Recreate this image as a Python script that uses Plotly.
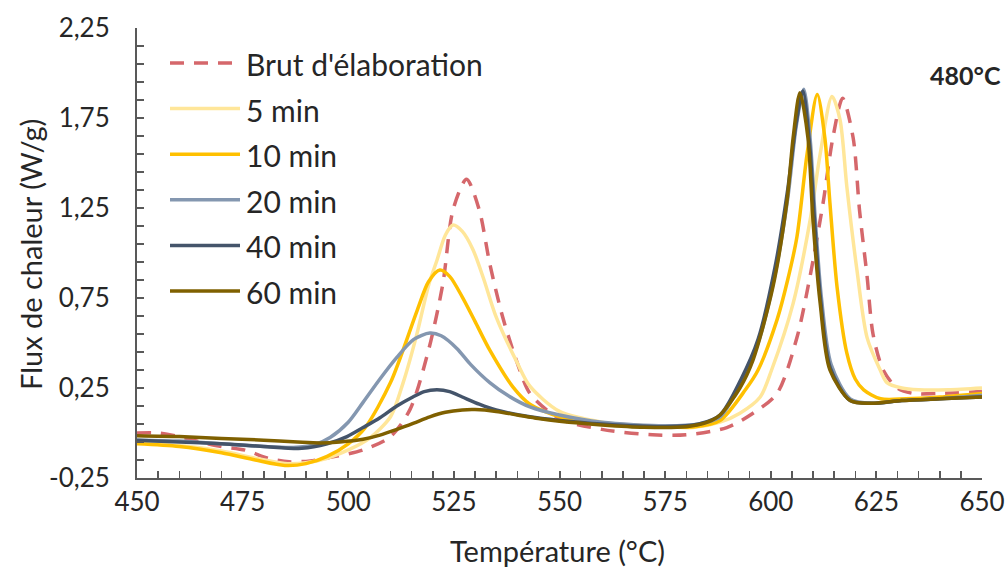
import plotly.graph_objects as go

# ---------------- data ----------------
series_names = ["Brut d'élaboration", "5 min", "10 min", "20 min", "40 min", "60 min"]
series_colors = ["#D5676B", "#FFE699", "#FFC000", "#8497B0", "#44546A", "#7F6000"]
series_dash = ["dash", "solid", "solid", "solid", "solid", "solid"]

t_brut = [450, 455, 460, 465, 470, 475.6, 481, 486, 491, 497, 503.5, 510, 514.6, 519, 522.4, 524.8, 528, 531,
          533.5, 536.6, 540, 543, 550, 560, 572, 580, 589.6, 595.8, 601.5, 606.2, 609.3, 612.4, 614.7, 617,
          619.5, 621, 622.8, 624.2, 626.6, 629.9, 633.7, 640, 650]
v_brut = [0.0, 0.0, -0.02, -0.05, -0.075, -0.095, -0.14, -0.16, -0.155, -0.13, -0.094, -0.02, 0.13, 0.46, 0.83,
          1.24, 1.41, 1.24, 0.94, 0.64, 0.39, 0.22, 0.08, 0.02, -0.01, -0.01, 0.03, 0.11, 0.22, 0.53, 0.87, 1.28,
          1.64, 1.86, 1.64, 1.24, 0.87, 0.55, 0.35, 0.25, 0.22, 0.22, 0.23]

t_5 = [450, 460, 470, 478, 485, 490, 495, 500.4, 505, 510, 513, 516.3, 519, 521, 523, 524.8, 527, 529.5, 532,
       535, 540, 543, 550, 560, 566, 575, 581.6, 588, 592.7, 597.5, 600.2, 605.3, 609.3, 611.7, 614.5, 616.4,
       618, 620.4, 622.8, 625.9, 627.5, 631, 635, 642, 650]
v_5 = [-0.055, -0.07, -0.1, -0.14, -0.17, -0.165, -0.14, -0.09, -0.03, 0.09, 0.28, 0.555, 0.82, 0.96, 1.1,
       1.155, 1.12, 1.02, 0.86, 0.645, 0.39, 0.26, 0.12, 0.06, 0.045, 0.035, 0.03, 0.06, 0.11, 0.2, 0.35, 0.72,
       1.18, 1.55, 1.87, 1.74, 1.37, 0.905, 0.53, 0.35, 0.28, 0.25, 0.24, 0.24, 0.25]

t_10 = [450, 460, 470, 478, 485, 490, 495, 500, 504, 510, 516.3, 519, 521.7, 524, 527, 530, 533.5, 539, 543,
        550, 560, 575, 582, 588, 594, 597, 601.5, 604, 606.2, 608.6, 611, 612.8, 614, 615.7, 618, 620, 622,
        626, 632, 640, 650]
v_10 = [-0.06, -0.075, -0.11, -0.15, -0.18, -0.17, -0.13, -0.06, 0.03, 0.28, 0.68, 0.84, 0.905, 0.87, 0.755,
        0.62, 0.46, 0.255, 0.16, 0.09, 0.055, 0.035, 0.035, 0.07, 0.24, 0.35, 0.63, 0.85, 1.09, 1.55, 1.88,
        1.64, 1.28, 0.81, 0.445, 0.3, 0.24, 0.19, 0.19, 0.2, 0.22]

t_20 = [450, 460, 470, 480, 487, 492, 495.7, 500, 503.5, 507.5, 511.5, 515.5, 519.3, 522, 525.7, 529, 533.5,
        538, 543, 550, 560, 575, 583, 588, 593, 597, 601, 604, 606, 607.8, 609.3, 610.5, 612, 614.3, 618.8,
        624, 631, 640, 650]
v_20 = [-0.04, -0.045, -0.06, -0.075, -0.08, -0.065, -0.025, 0.06, 0.17, 0.3, 0.42, 0.52, 0.555, 0.54, 0.47,
        0.38, 0.28, 0.205, 0.145, 0.1, 0.06, 0.04, 0.05, 0.09, 0.28, 0.5, 0.88, 1.3, 1.7, 1.91, 1.64, 1.2, 0.75,
        0.38, 0.19, 0.165, 0.18, 0.19, 0.21]

t_40 = [450, 460, 470, 480, 489, 495, 499.7, 503.5, 507.5, 511.5, 515.3, 518, 521, 524, 527, 531, 535, 543,
        550, 560, 575, 583, 588, 593, 597, 601, 604, 606, 607.6, 609.2, 610.3, 611.8, 614.1, 618.8, 624, 631,
        640, 650]
v_40 = [-0.04, -0.05, -0.06, -0.075, -0.085, -0.06, -0.02, 0.03, 0.085, 0.15, 0.2, 0.23, 0.24, 0.23, 0.2, 0.16,
        0.128, 0.09, 0.07, 0.05, 0.035, 0.05, 0.1, 0.3, 0.52, 0.92, 1.35, 1.72, 1.9, 1.6, 1.2, 0.74, 0.36, 0.18,
        0.165, 0.18, 0.19, 0.2]

t_60 = [450, 460, 470, 480, 488, 493.3, 498, 503.5, 507.5, 511.5, 515.5, 519.3, 523, 527, 530, 535, 540, 545,
        550, 560, 570, 580, 585, 588, 592.7, 595.8, 600.5, 603.8, 605.3, 606.9, 608.8, 610, 611.7, 614, 618.8,
        623.5, 631, 640, 650]
v_60 = [-0.015, -0.02, -0.03, -0.04, -0.05, -0.055, -0.05, -0.035, -0.012, 0.02, 0.055, 0.09, 0.115, 0.128,
        0.13, 0.12, 0.1, 0.08, 0.065, 0.045, 0.032, 0.035, 0.06, 0.1, 0.25, 0.405, 0.81, 1.28, 1.64, 1.89, 1.64,
        1.18, 0.72, 0.35, 0.18, 0.165, 0.18, 0.19, 0.2]

series_t = [t_brut, t_5, t_10, t_20, t_40, t_60]
series_v = [v_brut, v_5, v_10, v_20, v_40, v_60]

x_ticks = [450, 475, 500, 525, 550, 575, 600, 625, 650]
y_ticks = [-0.25, 0.25, 0.75, 1.25, 1.75, 2.25]

x_title = "Température (°C)"
y_title = "Flux de chaleur (W/g)"
corner_label = "480°C"

FONT = "Lato, 'Open Sans', sans-serif"
TXT = "#262626"
AX = "#595959"

# plot area in window pixels
PL, PR, PT, PB = 137, 982, 28, 478
PW, PH = PR - PL, PB - PT


def px(xw):
    return (xw - PL) / PW


def py(yw):
    return (PB - yw) / PH


fig = go.Figure()
for t, v, name, col, dash in zip(series_t, series_v, series_names, series_colors, series_dash):
    fig.add_trace(go.Scatter(
        x=t, y=v, mode="lines", name=name,
        line=dict(color=col, width=3.5, dash=("14px,10px" if dash == "dash" else "solid"),
                  shape="spline", smoothing=0.8),
        showlegend=False, hoverinfo="skip"))

# custom legend (long line samples like the original)
leg_top = 63
leg_step = 45.6
shapes = []
annotations = []
for i, (name, col, dash) in enumerate(zip(series_names, series_colors, series_dash)):
    yw = leg_top + i * leg_step
    shapes.append(dict(type="line", xref="paper", yref="paper",
                       x0=px(170), x1=px(240), y0=py(yw), y1=py(yw),
                       line=dict(color=col, width=3.5,
                                 dash=("14px,10px" if dash == "dash" else "solid"))))
    annotations.append(dict(xref="paper", yref="paper", x=px(244), y=py(yw + 1),
                            xanchor="left", yanchor="middle", text=name, showarrow=False,
                            font=dict(family=FONT, size=30, color=TXT)))

annotations.append(dict(xref="paper", yref="paper", x=px(1003), y=py(75),
                        xanchor="right", yanchor="middle", text="<b>" + corner_label + "</b>",
                        showarrow=False, font=dict(family=FONT, size=25, color=TXT)))
annotations.append(dict(xref="paper", yref="paper", x=px(557), y=py(550),
                        xanchor="center", yanchor="middle", text=x_title, showarrow=False,
                        font=dict(family=FONT, size=29, color=TXT)))
annotations.append(dict(xref="paper", yref="paper", x=px(30), y=py(255),
                        xanchor="center", yanchor="middle", text=y_title, showarrow=False,
                        textangle=-90, font=dict(family=FONT, size=29, color=TXT)))

fig.update_layout(
    width=1008, height=568,
    margin=dict(l=PL, r=1008 - PR, t=PT, b=568 - PB, autoexpand=False),
    paper_bgcolor="white", plot_bgcolor="white",
    font=dict(family=FONT, size=26, color=TXT),
    shapes=shapes, annotations=annotations,
    showlegend=False,
)
fig.update_xaxes(
    range=[450, 650], tickvals=x_ticks, ticktext=[str(v) for v in x_ticks], automargin=False,
    showgrid=False, zeroline=False, showline=True, linecolor=AX, linewidth=2,
    ticks="inside", ticklen=7, tickwidth=2, tickcolor=AX, ticklabelstandoff=0,
    minor=dict(dtick=5, tick0=450, ticks="inside", ticklen=7, tickwidth=1.5, tickcolor=AX),
    tickfont=dict(family=FONT, size=26, color=TXT),
)
fig.update_yaxes(
    range=[-0.25, 2.25], tickvals=y_ticks, ticktext=[f"{v:.2f}".replace(".", ",") for v in y_ticks],
    automargin=False,
    showgrid=False, zeroline=False, showline=True, linecolor=AX, linewidth=2,
    ticks="inside", ticklen=7, tickwidth=2, tickcolor=AX, ticklabelstandoff=20,
    minor=dict(dtick=0.1, tick0=-0.25, ticks="inside", ticklen=7, tickwidth=1.5, tickcolor=AX),
    tickfont=dict(family=FONT, size=26, color=TXT),
)

fig.write_html("out.html", config={"displayModeBar": False, "staticPlot": True},
               post_script="document.body.style.margin='0';document.body.style.overflow='hidden';")
